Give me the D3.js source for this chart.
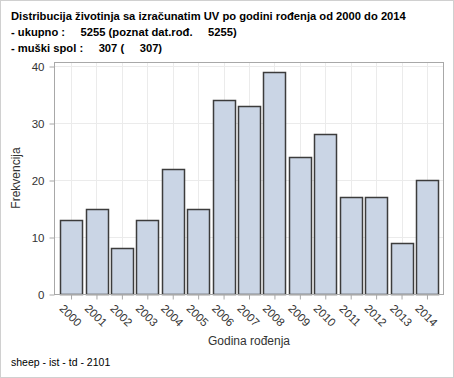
<!DOCTYPE html>
<html>
<head>
<meta charset="utf-8">
<script src="https://cdn.jsdelivr.net/npm/d3@7"></script>
<style>
  body { margin: 0; background: #fff; }
  svg { display: block; font-family: "Liberation Sans", Arial, sans-serif; }
</style>
</head>
<body>
<div id="chart"></div>
<script>
// Data
const years = ["2000","2001","2002","2003","2004","2005","2006","2007","2008","2009","2010","2011","2012","2013","2014"];
const counts = [13, 15, 8, 13, 22, 15, 34, 33, 39, 24, 28, 17, 17, 9, 20];
const yTicks = [0, 10, 20, 30, 40];
const titleLines = [
  "Distribucija životinja sa izračunatim UV po godini rođenja od 2000 do 2014",
  "- ukupno :     5255 (poznat dat.rođ.     5255)",
  "- muški spol :     307 (     307)"
];

/*******************************/
/*    Declare the constants    */
/*******************************/
const width = 454;
const height = 378;
const plot = {left: 54, right: 444, top: 62, bottom: 294};

const svg = d3.select("#chart")
  .append("svg")
    .attr("width", width)
    .attr("height", height);

// outer frame
svg.append("rect")
  .attr("x", 0.5).attr("y", 0.5)
  .attr("width", width - 1).attr("height", height - 1)
  .attr("fill", "#fff")
  .attr("stroke", "#d0d0d0");

/****************************/
/*    Declare the scales    */
/****************************/
const xScale = d3.scaleBand()
  .domain(years)
  .range([plot.left, plot.right])
  .paddingInner(0.14)
  .paddingOuter(0.24);

const yScale = d3.scaleLinear()
  .domain([0, 40])
  .range([plot.bottom, 66]);

// grid lines
svg.append("g")
  .selectAll("line")
  .data(yTicks.slice(1))
  .join("line")
    .attr("x1", plot.left).attr("x2", plot.right)
    .attr("y1", d => Math.round(yScale(d)) + 0.5)
    .attr("y2", d => Math.round(yScale(d)) + 0.5)
    .attr("stroke", "#ebebeb");
svg.append("g")
  .selectAll("line")
  .data(years)
  .join("line")
    .attr("x1", d => Math.round(xScale(d) + xScale.bandwidth() / 2) + 0.5)
    .attr("x2", d => Math.round(xScale(d) + xScale.bandwidth() / 2) + 0.5)
    .attr("y1", plot.top).attr("y2", plot.bottom)
    .attr("stroke", "#ebebeb");

/**************************/
/*      Add the bars      */
/**************************/
svg.append("g")
  .selectAll("rect")
  .data(counts)
  .join("rect")
    .attr("x", (d, i) => Math.round(xScale(years[i])) + 0.5)
    .attr("y", d => Math.round(yScale(d)) + 0.5)
    .attr("width", Math.round(xScale.bandwidth()))
    .attr("height", d => Math.round(yScale(0)) - Math.round(yScale(d)))
    .attr("fill", "#cad5e5")
    .attr("stroke", "#3c3c3c")
    .attr("stroke-width", 1.5);

// plot frame
svg.append("rect")
  .attr("x", plot.left + 0.5).attr("y", plot.top + 0.5)
  .attr("width", plot.right - plot.left - 1)
  .attr("height", plot.bottom - plot.top)
  .attr("fill", "none")
  .attr("stroke", "#a8a8a8");

/**************************/
/*      Add the axes      */
/**************************/
const leftAxis = d3.axisLeft(yScale)
  .tickValues(yTicks)
  .tickSize(5)
  .tickSizeOuter(0);
const gy = svg.append("g")
  .attr("transform", `translate(${plot.left + 0.5}, 0.5)`)
  .call(leftAxis);
gy.select(".domain").remove();
gy.selectAll("line").attr("stroke", "#a8a8a8");
gy.selectAll("text")
  .attr("font-size", 11.5)
  .attr("fill", "#333")
  .attr("x", -10)
  .attr("dy", "0.35em")
  .attr("font-family", "Liberation Sans, Arial, sans-serif");

const bottomAxis = d3.axisBottom(xScale)
  .tickSize(5)
  .tickSizeOuter(0);
const gx = svg.append("g")
  .attr("transform", `translate(0.5, ${plot.bottom + 0.5})`)
  .call(bottomAxis);
gx.select(".domain").remove();
gx.selectAll("line").attr("stroke", "#a8a8a8");
gx.selectAll("text")
  .attr("font-size", 11.5)
  .attr("fill", "#333")
  .attr("font-family", "Liberation Sans, Arial, sans-serif")
  .attr("text-anchor", "middle")
  .attr("y", 0)
  .attr("dy", "0.35em")
  .attr("transform", "translate(-1, 21) rotate(45)");

svg.append("text")
  .text("Frekvencija")
  .attr("transform", `translate(20, ${(plot.top + plot.bottom) / 2}) rotate(-90)`)
  .attr("text-anchor", "middle")
  .attr("font-size", 12)
  .attr("fill", "#333");

svg.append("text")
  .text("Godina rođenja")
  .attr("x", (plot.left + plot.right) / 2)
  .attr("y", 345)
  .attr("text-anchor", "middle")
  .attr("font-size", 12)
  .attr("fill", "#333");

/**************************/
/*      Titles            */
/**************************/
svg.append("g")
  .selectAll("text")
  .data(titleLines)
  .join("text")
    .text(d => d)
    .attr("x", 11)
    .attr("y", (d, i) => 20 + i * 16)
    .attr("font-size", 11.2)
    .attr("font-weight", "bold")
    .attr("fill", "#000")
    .attr("xml:space", "preserve")
    .style("white-space", "pre");

svg.append("text")
  .text("sheep - ist - td - 2101")
  .attr("x", 11)
  .attr("y", 366)
  .attr("font-size", 10.5)
  .attr("fill", "#000");
</script>
</body>
</html>
